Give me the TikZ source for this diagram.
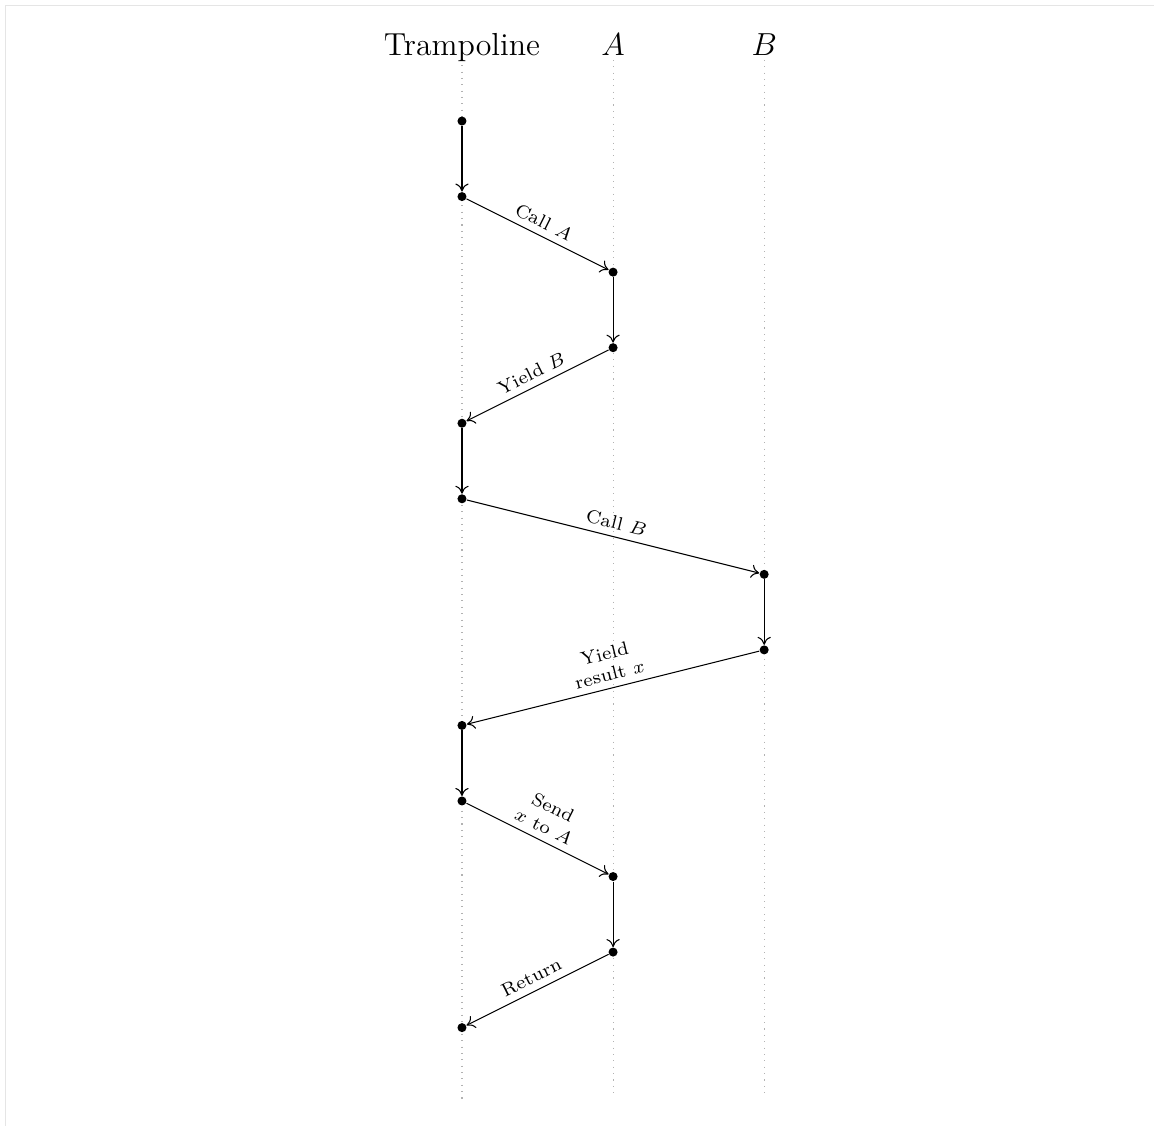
\documentclass[tikz,border=0pt]{standalone}
\usetikzlibrary{arrows.meta}
\begin{document}
\begin{tikzpicture}[
  event/.style={circle, fill=black, inner sep=0pt, minimum size=3.4pt},
  lifeline/.style={gray!60, dotted},
  flow/.style={-{To[length=3pt,width=5pt]}},
  msg/.style={font=\scriptsize, sloped, above, align=center, inner sep=2.5pt},
  head/.style={font=\large, anchor=base}
]
  % canvas and faint frame
  \useasboundingbox (-6.115,-13.302) rectangle (9.160,1.602);
  \draw[black!10, line width=0.6pt] (-6.042,-13.302) -- (-6.042,1.529) -- (9.160,1.529);

  % column headings
  \node[head] (tr) at (0,0.874) {Trampoline};
  \node[head] (ha) at (2,0.874) {$A$};
  \node[head] (hb) at (4,0.874) {$B$};

  % lifelines
  \coordinate (tre) at (0,-12.98);
  \coordinate (hae) at (2,-12.92);
  \coordinate (hbe) at (4,-12.92);
  \draw[lifeline] (0,0.74) -- (tre);
  \draw[lifeline] (2,0.81) -- (hae);
  \draw[lifeline] (4,0.81) -- (hbe);

  % events
  \node[event] (e0)  at (0,0)   {};
  \node[event] (e1)  at (0,-1)  {};
  \node[event] (e2)  at (2,-2)  {};
  \node[event] (e3)  at (2,-3)  {};
  \node[event] (e4)  at (0,-4)  {};
  \node[event] (e5)  at (0,-5)  {};
  \node[event] (e6)  at (4,-6)  {};
  \node[event] (e7)  at (4,-7)  {};
  \node[event] (e8)  at (0,-8)  {};
  \node[event] (e9)  at (0,-9)  {};
  \node[event] (e10) at (2,-10) {};
  \node[event] (e11) at (2,-11) {};
  \node[event] (e12) at (0,-12) {};

  % control flow
  \draw[flow] (e0) -- (e1);
  \draw[flow] (e1) -- node[msg] {Call $A$} (e2);
  \draw[flow] (e2) -- (e3);
  \draw[flow] (e3) -- node[msg] {Yield $B$} (e4);
  \draw[flow] (e4) -- (e5);
  \draw[flow] (e5) -- node[msg] {Call $B$} (e6);
  \draw[flow] (e6) -- (e7);
  \draw[flow] (e7) -- node[msg] {Yield\\result $x$} (e8);
  \draw[flow] (e8) -- (e9);
  \draw[flow] (e9) -- node[msg] {Send\\$x$ to $A$} (e10);
  \draw[flow] (e10) -- (e11);
  \draw[flow] (e11) -- node[msg] {Return} (e12);
\end{tikzpicture}
\end{document}
